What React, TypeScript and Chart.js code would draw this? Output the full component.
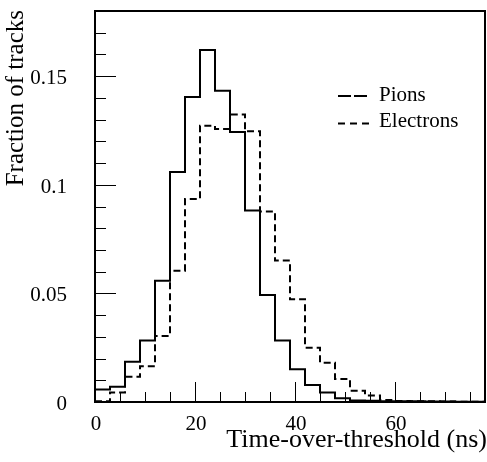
import React, { useEffect, useRef } from "react";
import { Chart, registerables } from "chart.js";

Chart.register(...registerables);

// Histogram bin edges (ns), bin width 3 ns
const binEdges = [0, 3, 6, 9, 12, 15, 18, 21, 24, 27, 30, 33, 36, 39, 42, 45, 48, 51, 54, 57, 60, 63, 66, 69, 72, 75, 78];

// Fraction of tracks per bin
const pions = [
  0.0058, 0.0070, 0.0185, 0.0283, 0.0558, 0.1059, 0.1404, 0.1620, 0.1433, 0.1243,
  0.0882, 0.0493, 0.0283, 0.0151, 0.0078, 0.0044, 0.0017, 0.0007, 0.0006, 0.0004,
  0.0003, 0.0003, 0.0002, 0.0002, 0.0001, 0.0001,
];
const electrons = [
  0.0003, 0.0044, 0.0116, 0.0165, 0.0304, 0.0604, 0.0934, 0.1272, 0.1257, 0.1323,
  0.1246, 0.0877, 0.0651, 0.0473, 0.0250, 0.0181, 0.0106, 0.0052, 0.0030, 0.0009,
  0.0005, 0.0003, 0.0003, 0.0002, 0.0001, 0.0001,
];

const seriesNames = ["Pions", "Electrons"];
const xTickValues = [0, 20, 40, 60];
const yTickValues = [0, 0.05, 0.1, 0.15];
const yTickLabels = ["0", "0.05", "0.1", "0.15"];
const xTitle = "Time-over-threshold (ns)";
const yTitle = "Fraction of tracks";

const X_MIN = 0;
const X_MAX = 78;
const Y_MIN = 0;
const Y_MAX = 0.18;

function stepPoints(values: number[]) {
  const pts: { x: number; y: number }[] = [];
  values.forEach((v, i) => {
    pts.push({ x: binEdges[i], y: v });
    pts.push({ x: binEdges[i + 1], y: v });
  });
  return pts;
}

const FONT = '"Liberation Serif", "Times New Roman", serif';

const decorPlugin = {
  id: "decor",
  afterDraw(chart: any) {
    const { ctx, chartArea: a } = chart;
    const xs = chart.scales.x;
    const ys = chart.scales.y;
    ctx.save();
    ctx.strokeStyle = "#000";
    ctx.fillStyle = "#000";

    // Frame
    ctx.lineWidth = 2;
    ctx.strokeRect(a.left, a.top, a.right - a.left, a.bottom - a.top);

    // X ticks (inside)
    ctx.lineWidth = 1;
    ctx.beginPath();
    for (let v = X_MIN + 5; v < X_MAX; v += 5) {
      const px = Math.round(xs.getPixelForValue(v)) + 0.5;
      const len = v % 20 === 0 ? 20 : 10;
      ctx.moveTo(px, a.bottom);
      ctx.lineTo(px, a.bottom - len);
    }
    // Y ticks (inside)
    for (let i = 1; i < 18; i++) {
      const v = i * 0.01;
      const py = Math.round(ys.getPixelForValue(v)) + 0.5;
      const len = i % 5 === 0 ? 21 : 11;
      ctx.moveTo(a.left, py);
      ctx.lineTo(a.left + len, py);
    }
    ctx.stroke();

    // Tick labels
    ctx.font = `21px ${FONT}`;
    ctx.textBaseline = "alphabetic";
    ctx.textAlign = "center";
    xTickValues.forEach((v) => {
      ctx.fillText(String(v), xs.getPixelForValue(v) + 1, 430);
    });
    ctx.textAlign = "right";
    yTickValues.forEach((v, i) => {
      ctx.fillText(yTickLabels[i], 67, ys.getPixelForValue(v) + 8);
    });

    // Axis titles
    ctx.font = `26px ${FONT}`;
    ctx.textAlign = "right";
    ctx.fillText(xTitle, 487, 447);
    ctx.save();
    ctx.translate(23, 10);
    ctx.rotate(-Math.PI / 2);
    ctx.font = `25px ${FONT}`;
    ctx.textAlign = "right";
    ctx.fillText(yTitle, 0, 0);
    ctx.restore();

    // Legend
    ctx.lineWidth = 2;
    ctx.beginPath();
    ctx.setLineDash([13, 3]);
    ctx.moveTo(338, 96);
    ctx.lineTo(367, 96);
    ctx.stroke();
    ctx.beginPath();
    ctx.setLineDash([7, 5]);
    ctx.moveTo(338, 123.5);
    ctx.lineTo(370, 123.5);
    ctx.stroke();
    ctx.setLineDash([]);
    ctx.font = `21px ${FONT}`;
    ctx.textAlign = "left";
    ctx.fillText(seriesNames[0], 379, 101);
    ctx.fillText(seriesNames[1], 379, 127);

    ctx.restore();
  },
};

export default function App() {
  const ref = useRef<HTMLCanvasElement | null>(null);

  useEffect(() => {
    if (!ref.current) return;
    const chart = new Chart(ref.current, {
      type: "line",
      data: {
        datasets: [
          {
            label: seriesNames[0],
            data: stepPoints(pions),
            borderColor: "#000",
            borderWidth: 2,
            pointRadius: 0,
            tension: 0,
            fill: false,
            clip: false as any,
          },
          {
            label: seriesNames[1],
            data: stepPoints(electrons),
            borderColor: "#000",
            borderWidth: 2,
            borderDash: [7, 4],
            pointRadius: 0,
            tension: 0,
            fill: false,
            clip: false as any,
          },
        ],
      },
      options: {
        animation: false,
        responsive: false,
        devicePixelRatio: 1,
        layout: { padding: { left: 95, right: 2, top: 11, bottom: 60 } },
        plugins: {
          legend: { display: false },
          tooltip: { enabled: false },
          title: { display: false },
        },
        scales: {
          x: { type: "linear", min: X_MIN, max: X_MAX, display: false },
          y: { type: "linear", min: Y_MIN, max: Y_MAX, display: false },
        },
      },
      plugins: [decorPlugin],
    });
    return () => chart.destroy();
  }, []);

  return (
    <div style={{ position: "absolute", left: 0, top: 0, width: 487, height: 462, background: "#fff" }}>
      <canvas ref={ref} width={487} height={462} style={{ width: 487, height: 462, display: "block" }} />
    </div>
  );
}
